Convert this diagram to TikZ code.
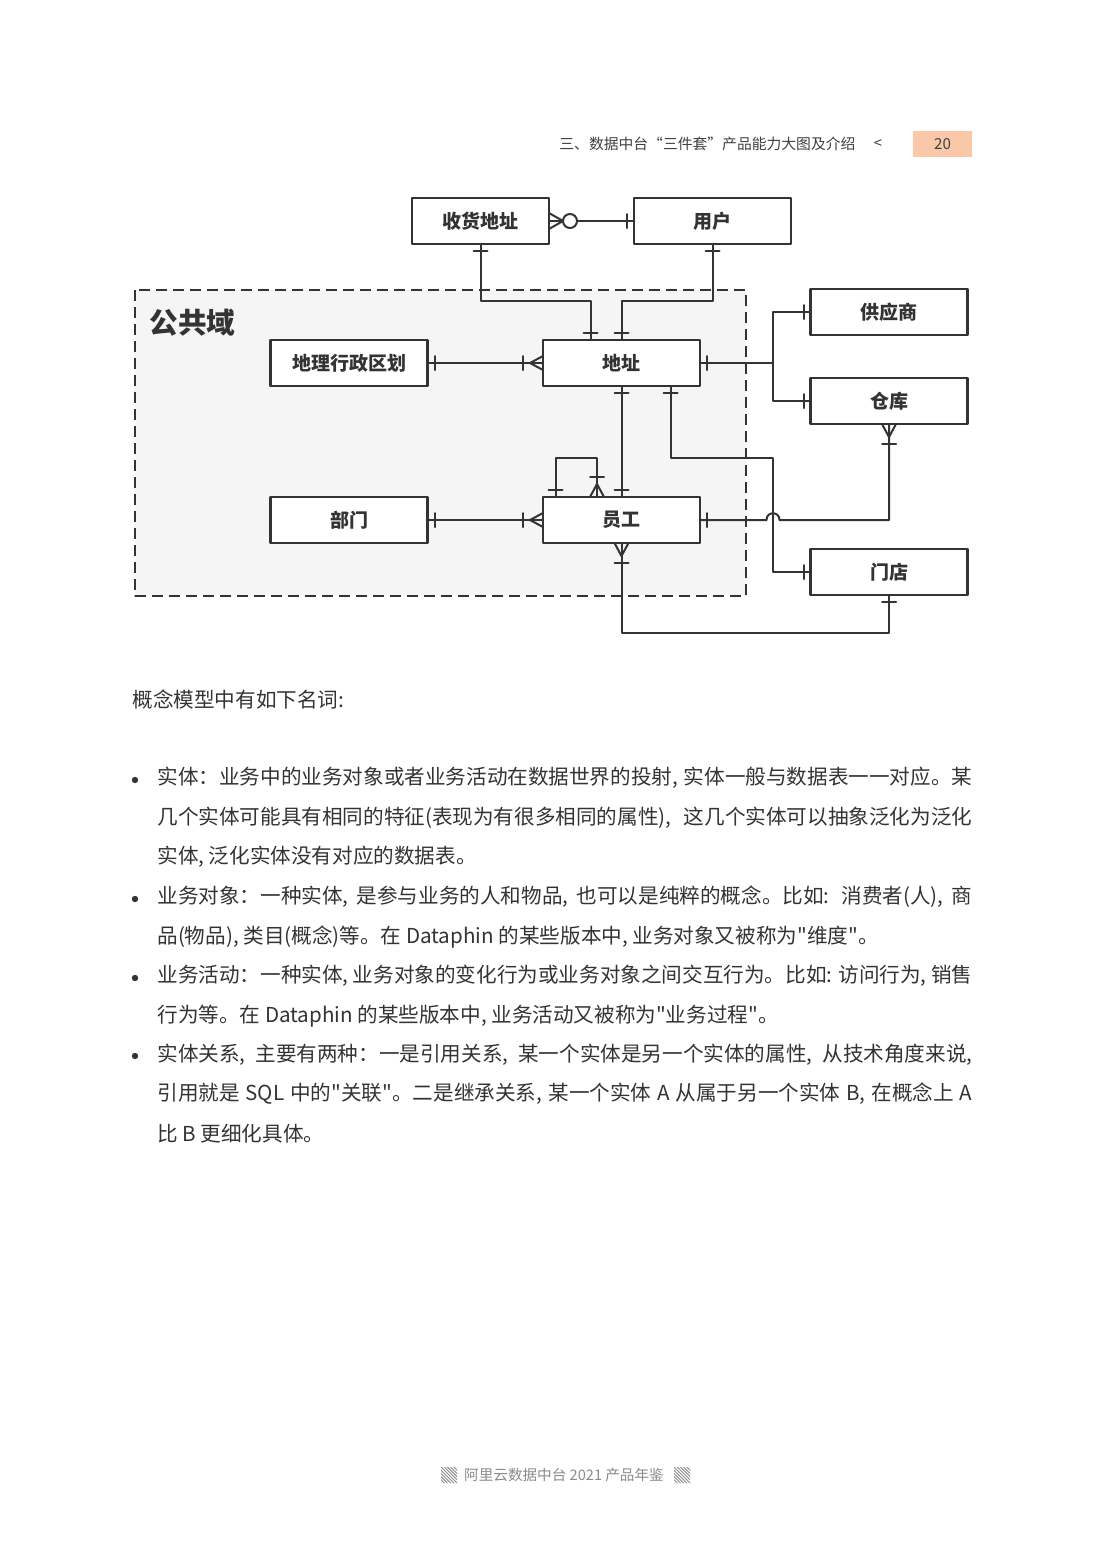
\documentclass[tikz,border=0pt]{standalone}
\usepackage{fontspec}
\setmainfont{Noto Sans CJK SC}[Ligatures=TeXOff]
\usetikzlibrary{calc}
\XeTeXlinebreaklocale "zh"
\XeTeXlinebreakskip=0pt plus 2pt
\definecolor{ink}{HTML}{333333}
\definecolor{shade}{HTML}{F5F5F5}
\definecolor{hdr}{HTML}{404040}
\definecolor{peach}{HTML}{F9C8A8}
\definecolor{foot}{HTML}{8A8A8A}
\newcommand\fitline[1]{\makebox[407.5pt][s]{#1}}

\begin{document}
\begin{tikzpicture}[x=0.5pt, y=-0.5pt, line cap=round, line join=round,
    entity/.style={draw=ink, line width=1.25pt, fill=white, text=ink,
      minimum width=78.5pt, minimum height=23pt, inner sep=0pt, outer sep=0pt,
      font=\fontsize{9.5}{11}\selectfont\bfseries},
    link/.style={draw=ink, line width=1pt},
    regionbox/.style={draw=ink, line width=1.25pt, line cap=butt,
      dash pattern=on 5.5pt off 3pt, fill=shade},
    body/.style={anchor=west, inner sep=0pt, text=ink,
      font=\fontsize{10.3}{12}\selectfont},
    onebar/.pic={\draw[link] (7,-7) -- (7,7);},
    crowbar/.pic={\draw[link] (0,-7) -- (13,0) -- (0,7);
      \draw[link] (20,-7) -- (20,7);},
    zerocrow/.pic={\draw[link] (0,-8) -- (14,0) -- (0,8);
      \draw[link, fill=white] (21,0) circle[radius=7];}]
  \useasboundingbox (0,0) rectangle (1102,1559);

  % header
  \node[anchor=west, inner sep=0pt, text=hdr, font=\fontsize{7.4}{9}\selectfont]
    (chapter) at (559,144) {三、数据中台“三件套”产品能力大图及介绍};
  \node[inner sep=0pt, text=hdr, font=\fontsize{7.4}{9}\selectfont] (back) at (878,144) {<};
  \node[fill=peach, minimum width=29.5pt, minimum height=13pt, inner sep=0pt,
    text=hdr, font=\fontsize{7.6}{9}\selectfont] (pageno) at (942.5,144) {20};

  % common domain
  \path[regionbox] (135,290) rectangle (746,596);
  \node[anchor=west, inner sep=0pt, text=ink, font=\fontsize{14.3}{16}\selectfont\bfseries]
    (dlabel) at (149,323) {公共域};

  % entities
  \node[entity, minimum width=68.5pt] (shouhuo) at (480.5,221) {收货地址};
  \node[entity] (yonghu) at (712.5,221) {用户};
  \node[entity] (dizhi) at (621.5,363) {地址};
  \node[entity] (xingzheng) at (349,363) {地理行政区划};
  \node[entity] (bumen) at (349,520) {部门};
  \node[entity] (yuangong) at (621.5,520) {员工};
  \node[entity] (gongying) at (889,312) {供应商};
  \node[entity] (cangku) at (889,401) {仓库};
  \node[entity] (mendian) at (889,572) {门店};

  % shouhuo - yonghu
  \draw[link] (shouhuo.east) -- (yonghu.west);
  \pic at (shouhuo.east) {zerocrow};
  \pic[rotate=180] at (yonghu.west) {onebar};

  % shouhuo / yonghu - dizhi
  \draw[link] (shouhuo.south) -- ++(0,57) -| ($(dizhi.north)+(-31,0)$);
  \draw[link] (yonghu.south) -- ++(0,57) -| (dizhi.north);
  \pic[rotate=270] at (shouhuo.south) {onebar};
  \pic[rotate=270] at (yonghu.south) {onebar};
  \pic[rotate=90] at ($(dizhi.north)+(-31,0)$) {onebar};
  \pic[rotate=90] at (dizhi.north) {onebar};

  % xingzheng - dizhi
  \draw[link] (xingzheng.east) -- (dizhi.west);
  \pic at (xingzheng.east) {onebar};
  \pic[rotate=180] at (dizhi.west) {crowbar};

  % dizhi - gongying, cangku
  \draw[link] (dizhi.east) -- ++(73,0) coordinate (fork);
  \draw[link] (fork) |- (gongying.west);
  \draw[link] (fork) |- (cangku.west);
  \pic at (dizhi.east) {onebar};
  \pic[rotate=180] at (gongying.west) {onebar};
  \pic[rotate=180] at (cangku.west) {onebar};

  % dizhi - yuangong
  \draw[link] (dizhi.south) -- (yuangong.north);
  \pic[rotate=270] at (dizhi.south) {onebar};
  \pic[rotate=90] at (yuangong.north) {onebar};

  % dizhi - mendian
  \draw[link] ($(dizhi.south)+(49,0)$) -- ++(0,72) -| (fork |- mendian.west) -- (mendian.west);
  \pic[rotate=270] at ($(dizhi.south)+(49,0)$) {onebar};
  \pic[rotate=180] at (mendian.west) {onebar};

  % yuangong - cangku, hop over the dizhi - mendian line
  \draw[link] (yuangong.east) -- ($(fork |- yuangong.east)+(-6.5,0)$)
    .. controls +(0,-9) and +(0,-9) .. ($(fork |- yuangong.east)+(6.5,0)$)
    -| (cangku.south);
  \pic at (yuangong.east) {onebar};
  \pic[rotate=270] at (cangku.south) {crowbar};

  % yuangong self
  \draw[link] ($(yuangong.north)+(-66,0)$) -- ++(0,-39) -| ($(yuangong.north)+(-24.5,0)$);
  \pic[rotate=90] at ($(yuangong.north)+(-66,0)$) {onebar};
  \pic[rotate=90] at ($(yuangong.north)+(-24.5,0)$) {crowbar};

  % bumen - yuangong
  \draw[link] (bumen.east) -- (yuangong.west);
  \pic at (bumen.east) {onebar};
  \pic[rotate=180] at (yuangong.west) {crowbar};

  % yuangong - mendian
  \draw[link] (yuangong.south) -- ++(0,90) -| (mendian.south);
  \pic[rotate=270] at (yuangong.south) {crowbar};
  \pic[rotate=270] at (mendian.south) {onebar};

  % text
  \node[body] (intro) at (132,700) {概念模型中有如下名词:};
  \foreach \by in {780,899,978,1056}
    \fill[ink] (135,\by) circle[radius=3.2];
  \node[body] (t1) at (157,778) {\fitline{实体：业务中的业务对象或者业务活动在数据世界的投射, 实体一般与数据表一一对应。某}};
  \node[body] (t2) at (157,818) {\fitline{几个实体可能具有相同的特征(表现为有很多相同的属性), 这几个实体可以抽象泛化为泛化}};
  \node[body] (t3) at (157,857) {实体, 泛化实体没有对应的数据表。};
  \node[body] (t4) at (157,897) {\fitline{业务对象：一种实体, 是参与业务的人和物品, 也可以是纯粹的概念。比如: 消费者(人), 商}};
  \node[body] (t5) at (157,937) {品(物品), 类目(概念)等。在 Dataphin 的某些版本中, 业务对象又被称为"维度"。};
  \node[body] (t6) at (157,976) {\fitline{业务活动：一种实体, 业务对象的变化行为或业务对象之间交互行为。比如: 访问行为, 销售}};
  \node[body] (t7) at (157,1016) {行为等。在 Dataphin 的某些版本中, 业务活动又被称为"业务过程"。};
  \node[body] (t8) at (157,1055) {\fitline{实体关系, 主要有两种：一是引用关系, 某一个实体是另一个实体的属性, 从技术角度来说,}};
  \node[body] (t9) at (157,1094) {\fitline{引用就是 SQL 中的"关联"。二是继承关系, 某一个实体 A 从属于另一个实体 B, 在概念上 A}};
  \node[body] (t10) at (157,1134) {比 B 更细化具体。};

  % footer
  \node[inner sep=0pt, text=foot, font=\fontsize{7.3}{9}\selectfont] (footer) at (564,1475)
    {阿里云数据中台 2021 产品年鉴};
  \foreach \hx in {441,674} {
    \begin{scope}
      \clip (\hx,1467) rectangle ++(16,16);
      \foreach \d in {-16,-12.8,...,16}
        \draw[foot, line width=0.45pt] (\hx+\d,1467) -- ++(16,16);
    \end{scope}
  }
\end{tikzpicture}
\end{document}
